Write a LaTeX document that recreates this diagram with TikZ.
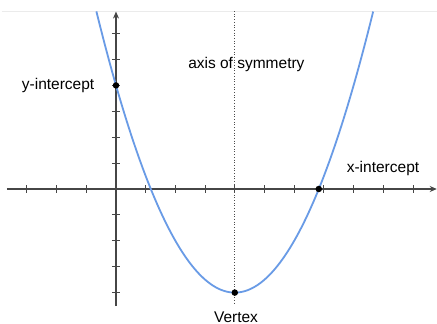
\documentclass[tikz,border=0pt]{standalone}
\usepackage{fontspec}
\setmainfont{Liberation Sans}
\usetikzlibrary{arrows.meta}
\definecolor{curveblue}{RGB}{105,155,230}
\definecolor{axisgray}{RGB}{70,70,70}
\tikzset{
  axisline/.style={draw=axisgray, line width=1.1pt, -{Stealth[length=7pt,width=6pt]}},
  tickmark/.style={draw=axisgray, line width=0.9pt},
  dotpt/.style={circle, fill=black, inner sep=0pt, minimum size=6.5pt},
  lbl/.style={font=\fontsize{15.5}{18}\selectfont, inner sep=0pt},
}
\begin{document}
\begin{tikzpicture}[x=29.7pt,y=25.9pt]
\useasboundingbox (-116pt,-135pt) rectangle (321pt,189pt);
\fill[white] (-116pt,-135pt) rectangle (321pt,189pt);
% faint top rule
\draw[black!8, line width=0.5pt] (-114pt,178pt) -- (321pt,178pt);
% axes
\coordinate (xl) at (-3.67,0);
\coordinate (xr) at (10.8,0);
\coordinate (yb) at (0,-4.52);
\coordinate (yt) at (0,6.85);
\draw[axisline] (xl) -- (xr);
\draw[axisline] (yb) -- (yt);
\foreach \k in {-3,-2,-1,1,2,3,4,5,6,7,8,9,10}
  \draw[tickmark] (\k,0) ++(0,-4pt) -- ++(0,8pt);
\foreach \k in {-4,-3,-2,-1,1,2,3,4,5,6}
  \draw[tickmark] (0,\k) ++(-4pt,0) -- ++(8pt,0);
% axis of symmetry
\coordinate (st) at (4,6.87);
\coordinate (sb) at (4,-4.45);
\draw[black!70, line width=0.7pt, dotted] (st) -- (sb);
% parabola
\draw[curveblue, line width=1.8pt, domain=-0.66:8.66, samples=120]
  plot (\x, {0.5*(\x-4)*(\x-4)-4});
% points
\node[dotpt] (yint) at (0,4) {};
\node[dotpt] (vert) at (4,-4) {};
\node[dotpt] (xint) at (6.828,0) {};
% labels
\node[lbl] (ylab) at (-1.95,4) {y-intercept};
\node[lbl] (alab) at (4.39,4.79) {axis of symmetry};
\node[lbl] (xlab) at (8.99,0.81) {x-intercept};
\node[lbl, anchor=base] (vlab) at (4.04,-5.14) {Vertex};
\end{tikzpicture}
\end{document}
